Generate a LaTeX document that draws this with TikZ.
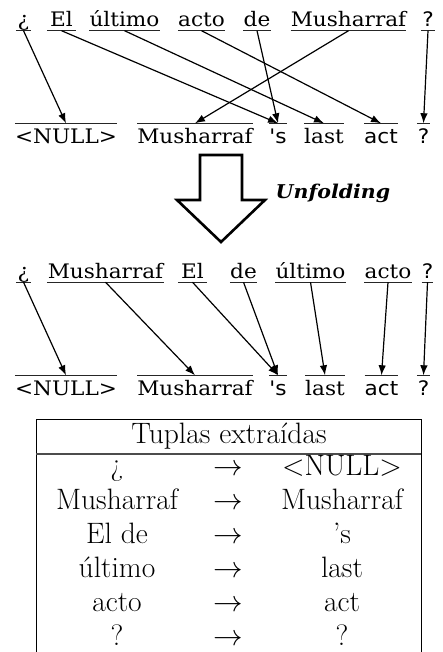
\RequirePackage{fix-cm}
\documentclass[tikz,border=0pt]{standalone}
\usepackage{fontspec}
\newfontfamily\dserif[FakeStretch=1.08]{DejaVu Serif}
\newfontfamily\dsans[FakeStretch=1.08]{DejaVu Sans}
\usetikzlibrary{arrows.meta}
\tikzset{
  tw/.style={anchor=base,inner sep=0pt,text depth=3.5pt,font=\dserif\fontsize{20}{22}\selectfont},
  bw/.style={anchor=base,inner sep=0pt,text height=20pt,text depth=0pt,font=\dserif\fontsize{20}{22}\selectfont},
  sans/.style={font=\dsans\fontsize{20}{22}\selectfont},
  uline/.style={line width=1.4pt,black!85},
  link/.style={line width=1.2pt,-{Latex[length=10pt,width=7.5pt]}},
  cell/.style={anchor=base,inner sep=0pt,text height=19pt,text depth=5pt,font=\fontsize{29.5}{34}\selectfont},
  tline/.style={line width=0.9pt},
}
\begin{document}
\begin{tikzpicture}[x=1pt,y=-1pt]
\useasboundingbox (0,0) rectangle (443,652);
% ---------- first alignment ----------
\node[tw,minimum width=15pt] (a1) at (23.5,27) {¿};
\node[tw,minimum width=29pt] (a2) at (61.5,27) {El};
\node[tw,minimum width=67pt] (a3) at (124.5,27) {último};
\node[tw,minimum width=45pt] (a4) at (201.5,27) {acto};
\node[tw,minimum width=26pt] (a5) at (257,27) {de};
\node[tw,minimum width=115pt] (a6) at (348.5,27) {Musharraf};
\node[tw,sans,minimum width=14pt] (a7) at (428,27) {?};
\foreach \n in {a1,a2,a3,a4,a5,a6,a7} \draw[uline] (\n.south west) -- (\n.south east);

\node[bw,minimum width=98pt] (b1) at (66,143.5) {<NULL>};
\node[bw,minimum width=114pt] (b2) at (195,143.5) {Musharraf};
\node[bw,sans,minimum width=18pt] (b3) at (278,143.5) {'s};
\node[bw,minimum width=40pt] (b4) at (324,143.5) {last};
\node[bw,sans,minimum width=32pt] (b5) at (381,143.5) {act};
\node[bw,sans,minimum width=13pt] (b6) at (423.5,143.5) {?};
\foreach \n in {b1,b2,b3,b4,b5,b6} \draw[uline] (\n.north west) -- (\n.north east);

\draw[link] (a1.south) -- (b1.north);
\draw[link] (a2.south) -- (b3.north);
\draw[link] (a3.south) -- (b4.north);
\draw[link] (a4.south) -- (b5.north);
\draw[link] (a5.south) -- (b3.north);
\draw[link] (a6.south) -- (b2.north);
\draw[link] (a7.south) -- (b6.north);

% ---------- unfolding arrow ----------
\draw[line width=2.6pt,miter limit=10] (200,155) -- (242,155) -- (242,200) -- (265,200) -- (221,242) -- (177,200) -- (200,200) -- cycle;
\node[anchor=center,inner sep=0pt,font=\dserif\fontsize{19}{21}\selectfont\bfseries\itshape] (unf) at (333,193) {Unfolding};

% ---------- second alignment ----------
\node[tw,minimum width=15pt] (c1) at (23.5,278.5) {¿};
\node[tw,minimum width=117pt] (c2) at (105.5,278.5) {Musharraf};
\node[tw,minimum width=29pt] (c3) at (192.5,278.5) {El};
\node[tw,minimum width=27pt] (c4) at (243.5,278.5) {de};
\node[tw,minimum width=69pt] (c5) at (310.5,278.5) {último};
\node[tw,minimum width=46pt] (c6) at (388,278.5) {acto};
\node[tw,sans,minimum width=11pt] (c7) at (427.5,278.5) {?};
\foreach \n in {c1,c2,c3,c4,c5,c6,c7} \draw[uline] (\n.south west) -- (\n.south east);

\node[bw,minimum width=98pt] (d1) at (66,395.5) {<NULL>};
\node[bw,minimum width=114pt] (d2) at (195,395.5) {Musharraf};
\node[bw,sans,minimum width=18pt] (d3) at (278,395.5) {'s};
\node[bw,minimum width=40pt] (d4) at (325,395.5) {last};
\node[bw,sans,minimum width=33pt] (d5) at (381.5,395.5) {act};
\node[bw,sans,minimum width=13pt] (d6) at (423.5,395.5) {?};
\foreach \n in {d1,d2,d3,d4,d5,d6} \draw[uline] (\n.north west) -- (\n.north east);

\draw[link] (c1.south) -- (d1.north);
\draw[link] (c2.south) -- (d2.north);
\draw[link] (c3.south) -- (d3.north);
\draw[link] (c4.south) -- (d3.north);
\draw[link] (c5.south) -- (d4.north);
\draw[link] (c6.south) -- (d5.north);
\draw[link] (c7.south) -- (d6.north);

% ---------- table ----------
\coordinate (tl) at (36,419);
\coordinate (tr) at (421,419);
\coordinate (bl) at (36,652);
\coordinate (br) at (421,652);
\coordinate (hl) at (36,454);
\coordinate (hr) at (421,454);
\draw[tline] (bl) -- (tl) -- (tr) -- (br);
\draw[line width=1.3pt,black!70] (hl) -- (hr);
\node[cell] (hd) at (229,443) {Tuplas extraídas};
\foreach \y/\l/\r [count=\i] in {475/¿/$<$NULL$>$, 509/Musharraf/Musharraf, 543/El de/’s, 577/último/last, 611/acto/act, 645/?/?}{
  \node[cell] (l\i) at (117,\y) {\l};
  \node[cell] (m\i) at (228,\y) {$\rightarrow$};
  \node[cell] (r\i) at (342,\y) {\r};
}
\end{tikzpicture}
\end{document}
